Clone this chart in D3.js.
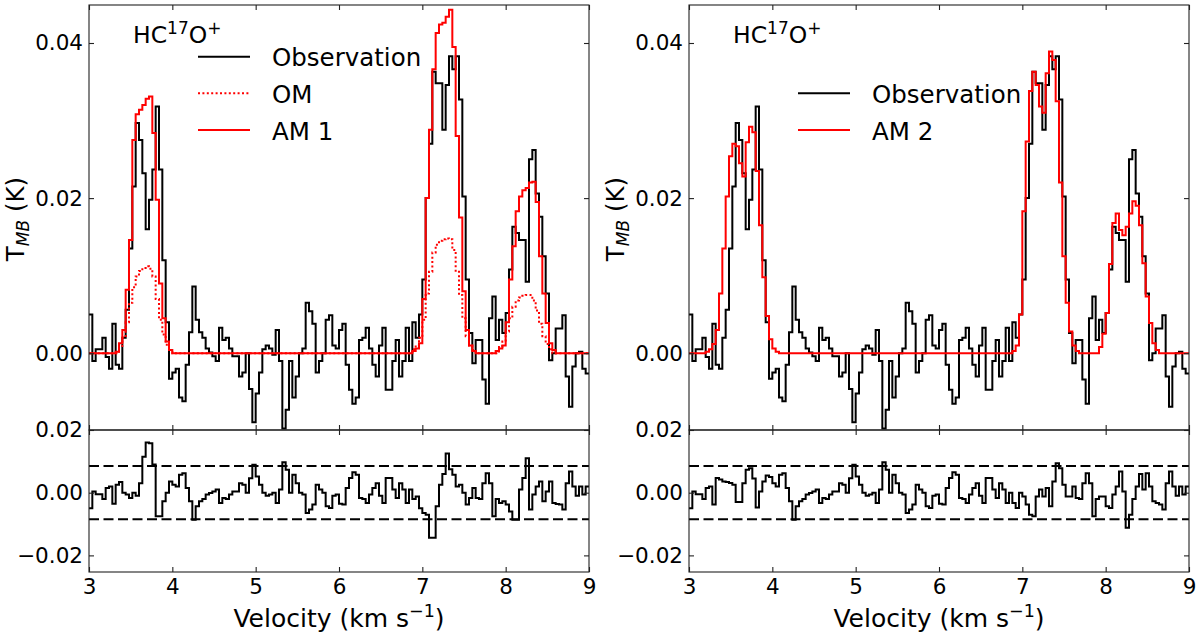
<!DOCTYPE html>
<html>
<head>
<meta charset="utf-8">
<script src="https://cdn.jsdelivr.net/npm/d3@7"></script>
<style>
  body { margin: 0; background: #fff; }
  svg text { font-family: "DejaVu Sans", sans-serif; fill: #000; }
</style>
</head>
<body>
<div id="chart"></div>
<script>
// HC17O+ spectrum: observation vs. models (left: OM / AM 1, right: AM 2) with residuals

// channel grid (km/s)
const chanStart = 3.0, chanWidth = 0.04;

// observed spectrum, T_MB (K), one value per channel
const obs = [
  0.005, -0.001, 0.0005, 0.0005, 0.002, -0.0005, -0.002, 0.0038, -0.0015, -0.002,
  0.002, 0.0056, 0.0135, 0.0215, 0.0297, 0.0275, 0.0232, 0.016, 0.0198, 0.0237,
  0.0318, 0.0237, 0.012, 0.004, -0.0033, -0.0025, -0.002, -0.0057, -0.0062, -0.0015,
  0.0027, 0.0086, 0.0043, 0.0027, 0.002, 0.0006, 0.0001, -0.0004, -0.001, 0.0033,
  0.0017, 0.002, 0.0006, -0.0004, -0.0004, -0.003, -0.0025, 0, -0.0046, -0.0089,
  -0.0052, -0.0025, 0.0005, 0.001, 0.0006, -0.0002, 0.003, -0.001, -0.0097, -0.0073,
  -0.001, -0.0057, -0.003, 0, 0.0006, 0.0065, 0.0054, 0.0038, -0.0025, -0.001,
  0, 0.0043, 0.0049, 0.001, 0.0006, 0.003, 0.0038, -0.0015, -0.0047, -0.0065,
  -0.0057, 0.0017, 0.002, 0.0033, 0.0006, -0.0015, -0.003, 0.001, 0.0033, -0.0047,
  -0.0047, -0.001, 0.0017, -0.003, -0.001, 0.0033, -0.001, 0.004, 0.002, 0.005,
  0.0095, 0.02, 0.027, 0.0363, 0.0348, 0.0348, 0.0288, 0.0346, 0.0383, 0.0366,
  0.0383, 0.0327, 0.0202, 0.0095, 0.0026, -0.0013, 0.0017, 0.0017, -0.0034, -0.0065,
  0.0045, 0.0073, 0.0017, 0.0043, 0.0026, 0.0052, 0.0108, 0.0163, 0.0155, 0.0146,
  0.0146, 0.0092, 0.025, 0.0262, 0.0206, 0.0176, 0.0125, 0.0077, -0.0009, 0,
  0.0032, 0.0032, 0.0049, -0.003, -0.0069, -0.0017, 0, 0.0002, -0.002, -0.0026
];

// OM model
const om = [
  0, 0, 0, 0, 0, 0, 0, 0, 0, 0.0008,
  0.002, 0.004, 0.0065, 0.0085, 0.0099, 0.0106, 0.011, 0.0112, 0.0109, 0.0099,
  0.007, 0.0043, 0.0024, 0.0011, 0.0004, 0, 0, 0, 0, 0,
  0, 0, 0, 0, 0, 0, 0, 0, 0, 0,
  0, 0, 0, 0, 0, 0, 0, 0, 0, 0,
  0, 0, 0, 0, 0, 0, 0, 0, 0, 0,
  0, 0, 0, 0, 0, 0, 0, 0, 0, 0,
  0, 0, 0, 0, 0, 0, 0, 0, 0, 0,
  0, 0, 0, 0, 0, 0, 0, 0, 0, 0,
  0, 0, 0, 0, 0, 0, 0, 0.0005, 0.001, 0.002,
  0.0043, 0.0077, 0.0105, 0.013, 0.014, 0.0145, 0.0147, 0.0148, 0.0147, 0.0133,
  0.0105, 0.0075, 0.0045, 0.0022, 0.001, 0.0004, 0, 0, 0, 0,
  0, 0, 0, 0.0008, 0.0015, 0.0028, 0.0045, 0.006, 0.0068, 0.0072,
  0.0074, 0.0075, 0.0075, 0.0068, 0.0055, 0.0038, 0.0022, 0.0012, 0.0005, 0,
  0, 0, 0, 0, 0, 0, 0, 0, 0, 0
];

// AM 1 model
const am1 = [
  0, 0, 0, 0, 0, 0, 0, 0, 0.0002, 0.0013,
  0.003, 0.0082, 0.0146, 0.0275, 0.0308, 0.0314, 0.032, 0.0328, 0.0331, 0.0284,
  0.0198, 0.009, 0.0045, 0.0015, 0.0004, 0, 0, 0, 0, 0,
  0, 0, 0, 0, 0, 0, 0, 0, 0, 0,
  0, 0, 0, 0, 0, 0, 0, 0, 0, 0,
  0, 0, 0, 0, 0, 0, 0, 0, 0, 0,
  0, 0, 0, 0, 0, 0, 0, 0, 0, 0,
  0, 0, 0, 0, 0, 0, 0, 0, 0, 0,
  0, 0, 0, 0, 0, 0, 0, 0, 0, 0,
  0, 0, 0, 0, 0, 0, 0, 0.0003, 0.0006, 0.0013,
  0.007, 0.02, 0.0288, 0.0366, 0.0413, 0.0424, 0.0426, 0.0434, 0.0443, 0.0395,
  0.028, 0.0175, 0.008, 0.003, 0.001, 0.0003, 0, 0, 0, 0,
  0, 0, 0.0003, 0.0006, 0.001, 0.004, 0.0095, 0.0138, 0.0183, 0.0202,
  0.021, 0.0213, 0.022, 0.0221, 0.0195, 0.0125, 0.0077, 0.0039, 0.0013, 0.0004,
  0, 0, 0, 0, 0, 0, 0, 0, 0, 0
];

// AM 2 model
const am2 = [
  0, 0, 0, 0, 0, 0.0002, 0.0005, 0.0012, 0.003, 0.0077,
  0.0135, 0.0202, 0.0254, 0.027, 0.0267, 0.0245, 0.0228, 0.0272, 0.0292, 0.0285,
  0.0235, 0.0165, 0.0098, 0.0048, 0.0018, 0.0006, 0.0002, 0, 0, 0,
  0, 0, 0, 0, 0, 0, 0, 0, 0, 0,
  0, 0, 0, 0, 0, 0, 0, 0, 0, 0,
  0, 0, 0, 0, 0, 0, 0, 0, 0, 0,
  0, 0, 0, 0, 0, 0, 0, 0, 0, 0,
  0, 0, 0, 0, 0, 0, 0, 0, 0, 0,
  0, 0, 0, 0, 0, 0, 0, 0, 0, 0,
  0, 0, 0, 0, 0, 0, 0, 0.0003, 0.001, 0.005,
  0.0183, 0.0273, 0.0338, 0.0363, 0.0346, 0.0318, 0.031, 0.0361, 0.0389, 0.0378,
  0.0325, 0.022, 0.0125, 0.0065, 0.0028, 0.001, 0.0003, 0, 0, 0,
  0, 0, 0, 0.0008, 0.0025, 0.0052, 0.0115, 0.0168, 0.018, 0.0159,
  0.0152, 0.0163, 0.018, 0.0196, 0.019, 0.0165, 0.0116, 0.0073, 0.0039, 0.0013,
  0.0004, 0, 0, 0, 0, 0, 0, 0, 0, 0
];

// residuals under each panel
const resAM1 = [
  -0.005, 0.0004, -0.0005, -0.0005, -0.002, 0.0015, 0.002, -0.0035, 0.0025, 0.0034,
  0, -0.0006, -0.0017, 0, -0.001, 0.003, 0.0115, 0.016, 0.0158, 0.009,
  -0.0075, -0.0075, -0.0027, 0, 0.0036, 0.0025, 0.002, 0.0057, 0.0062, 0.0015,
  -0.0027, -0.0086, -0.0043, -0.0027, -0.002, -0.0006, -0.0001, 0.0004, 0.001, -0.0033,
  -0.0017, -0.002, -0.0006, 0.0004, 0.0004, 0.003, 0.0025, 0, 0.0046, 0.0089,
  0.0052, 0.0025, 0, -0.001, -0.0006, 0, -0.0033, 0.001, 0.0097, 0.0073,
  0, 0.0057, 0.003, 0, -0.0006, -0.0065, -0.0054, -0.0038, 0.0025, 0.001,
  0, -0.0043, -0.0049, -0.001, -0.0006, -0.0035, -0.0038, 0.0015, 0.0047, 0.0065,
  0.0057, -0.0017, -0.002, -0.0033, -0.0006, 0.0015, 0.003, -0.001, -0.0033, 0.0047,
  0.0047, 0.001, -0.0017, 0.003, 0.001, -0.0033, 0.001, -0.002, -0.0012, -0.005,
  -0.0065, -0.007, -0.0144, -0.0144, -0.0043, 0.0025, 0.006, 0.0125, 0.0075, 0.0057,
  0.002, 0.0025, 0, -0.0038, -0.0017, 0.0015, -0.0017, -0.002, 0.003, 0.0062,
  0.003, -0.0075, -0.002, -0.0033, -0.0027, -0.0038, -0.006, -0.0086, -0.0086, 0.001,
  0.0047, 0.011, -0.0054, -0.0006, 0.002, 0.0036, -0.0027, 0.0004, 0.0036, -0.0033,
  -0.0036, -0.0038, -0.0054, 0.003, 0.0068, 0.002, -0.001, 0.002, -0.0006, 0.002
];

const resAM2 = [
  -0.005, 0.0004, -0.0005, -0.0005, -0.002, 0.0015, 0.002, -0.0038, 0.0047, 0.0042,
  0.0036, 0.0034, 0.0031, 0.0025, -0.003, -0.003, 0.003, 0.0073, 0.0078, 0.0045,
  -0.0047, 0.0004, 0.0036, 0.0055, 0.005, 0.003, 0.002, 0.0057, 0.0062, 0.0015,
  -0.0027, -0.0086, -0.0043, -0.0027, -0.002, -0.0006, -0.0001, 0.0004, 0.001, -0.0033,
  -0.0017, -0.002, -0.0006, 0.0004, 0.0004, 0.003, 0.0025, 0, 0.0046, 0.0089,
  0.0052, 0.0025, 0, -0.001, -0.0006, 0, -0.0033, 0.001, 0.0097, 0.0073,
  0, 0.0057, 0.003, 0, -0.0006, -0.0065, -0.0054, -0.0038, 0.0025, 0.001,
  0, -0.0043, -0.0049, -0.001, -0.0006, -0.0035, -0.0038, 0.0015, 0.0047, 0.0065,
  0.0057, -0.0017, -0.002, -0.0033, -0.0006, 0.0015, 0.003, -0.001, -0.0033, 0.0047,
  0.0047, 0.001, -0.0017, 0.003, 0.001, -0.0033, 0, -0.0033, -0.0049, 0,
  -0.0012, -0.0038, -0.007, -0.0075, -0.0012, 0.001, -0.0012, 0.0015, -0.0043, 0.0036,
  0.0094, 0.0078, 0.0025, -0.0012, -0.0012, 0.002, -0.0017, -0.002, 0.003, 0.0062,
  0.003, -0.0075, -0.002, -0.0012, -0.0012, -0.0043, -0.0049, -0.0006, 0.002, 0.0068,
  0.0004, -0.0112, -0.007, -0.002, 0.002, 0.006, 0.001, 0.0062, 0.002, -0.0027,
  -0.0033, -0.0038, -0.0054, 0.003, 0.0068, 0.002, -0.001, 0.002, -0.0006, 0.002
];

const noiseLevel = 0.0085;          // dashed lines in residual panels
const xTicks = [3, 4, 5, 6, 7, 8, 9];
const yTicksSpec = [0, 0.02, 0.04];
const yTicksRes = [-0.02, 0, 0.02];

const width = 1200, height = 638;
const tickFont = 21.5, labelFont = 25, legendFont = 24.5;

const svg = d3.select("#chart")
  .append("svg")
  .attr("width", width)
  .attr("height", height);

// channel edges for the step lines
const edges = d3.range(obs.length + 1).map(i => chanStart + i * chanWidth);
const toSteps = vals => vals.map((v, i) => [edges[i], v])
  .concat([[edges[vals.length], vals[vals.length - 1]]]);

const panels = [
  {
    id: "L", left: 89,
    models: [
      {name: "OM", values: om, color: "#ff0000", dash: "2,2.4"},
      {name: "AM 1", values: am1, color: "#ff0000", dash: null}
    ],
    residual: resAM1,
    legend: [
      {label: "Observation", color: "#000", dash: null, row: 0},
      {label: "OM", color: "#ff0000", dash: "2,2.4", row: 1},
      {label: "AM 1", color: "#ff0000", dash: null, row: 2}
    ]
  },
  {
    id: "R", left: 689,
    models: [
      {name: "AM 2", values: am2, color: "#ff0000", dash: null}
    ],
    residual: resAM2,
    legend: [
      {label: "Observation", color: "#000", dash: null, row: 1},
      {label: "AM 2", color: "#ff0000", dash: null, row: 2}
    ]
  }
];

const specTop = 5, specBottom = 430, resBottom = 572;

panels.forEach(p => {
  const right = p.left + 500;
  const x = d3.scaleLinear().domain([3, 9]).range([p.left, right]);
  const ySpec = d3.scaleLinear().domain([-0.0099, 0.0449]).range([specBottom, specTop]);
  const yRes = d3.scaleLinear().domain([-0.0253, 0.02]).range([resBottom, specBottom]);

  const g = svg.append("g");

  // clip regions
  const defs = g.append("defs");
  defs.append("clipPath").attr("id", "clipS" + p.id)
    .append("rect").attr("x", p.left).attr("y", specTop)
    .attr("width", 500).attr("height", specBottom - specTop);
  defs.append("clipPath").attr("id", "clipR" + p.id)
    .append("rect").attr("x", p.left).attr("y", specBottom)
    .attr("width", 500).attr("height", resBottom - specBottom);

  const lineSpec = d3.line().x(d => x(d[0])).y(d => ySpec(d[1])).curve(d3.curveStepAfter);
  const lineRes = d3.line().x(d => x(d[0])).y(d => yRes(d[1])).curve(d3.curveStepAfter);

  // spectrum panel
  const gs = g.append("g").attr("clip-path", `url(#clipS${p.id})`);
  gs.append("path")
    .datum(toSteps(obs))
    .attr("d", lineSpec)
    .attr("fill", "none")
    .attr("stroke", "#000")
    .attr("stroke-width", 2);

  p.models.forEach(m => {
    gs.append("path")
      .datum(toSteps(m.values))
      .attr("d", lineSpec)
      .attr("fill", "none")
      .attr("stroke", m.color)
      .attr("stroke-width", 2)
      .attr("stroke-dasharray", m.dash);
  });

  // residual panel
  const gr = g.append("g").attr("clip-path", `url(#clipR${p.id})`);
  [noiseLevel, -noiseLevel].forEach(v => {
    gr.append("line")
      .attr("x1", p.left).attr("x2", right)
      .attr("y1", yRes(v)).attr("y2", yRes(v))
      .attr("stroke", "#000")
      .attr("stroke-width", 2)
      .attr("stroke-dasharray", "10,4.5");
  });
  gr.append("path")
    .datum(toSteps(p.residual))
    .attr("d", lineRes)
    .attr("fill", "none")
    .attr("stroke", "#000")
    .attr("stroke-width", 2);

  // axes (ticks pointing in, on all four sides)
  const styleAxis = sel => {
    sel.select(".domain").remove();
    sel.selectAll(".tick line").attr("stroke", "#222").attr("stroke-width", 1.1);
    sel.selectAll("text").attr("font-size", tickFont).attr("font-family", "DejaVu Sans");
  };
  const fmt = d3.format(".2f");

  g.append("g").attr("transform", `translate(${p.left},0)`)
    .call(d3.axisLeft(ySpec).tickValues(yTicksSpec).tickFormat(fmt)
      .tickSizeInner(-5).tickSizeOuter(0).tickPadding(6))
    .call(styleAxis);
  g.append("g").attr("transform", `translate(${right},0)`)
    .call(d3.axisRight(ySpec).tickValues(yTicksSpec).tickFormat("")
      .tickSizeInner(-5).tickSizeOuter(0))
    .call(styleAxis);
  g.append("g").attr("transform", `translate(0,${specTop})`)
    .call(d3.axisTop(x).tickValues(xTicks).tickFormat("")
      .tickSizeInner(-5).tickSizeOuter(0))
    .call(styleAxis);
  g.append("g").attr("transform", `translate(0,${specBottom})`)
    .call(d3.axisBottom(x).tickValues(xTicks).tickFormat("")
      .tickSizeInner(-5).tickSizeOuter(0))
    .call(styleAxis);

  g.append("g").attr("transform", `translate(${p.left},0)`)
    .call(d3.axisLeft(yRes).tickValues(yTicksRes).tickFormat(fmt)
      .tickSizeInner(-5).tickSizeOuter(0).tickPadding(6))
    .call(styleAxis);
  g.append("g").attr("transform", `translate(${right},0)`)
    .call(d3.axisRight(yRes).tickValues(yTicksRes).tickFormat("")
      .tickSizeInner(-5).tickSizeOuter(0))
    .call(styleAxis);
  g.append("g").attr("transform", `translate(0,${specBottom})`)
    .call(d3.axisTop(x).tickValues(xTicks).tickFormat("")
      .tickSizeInner(-5).tickSizeOuter(0))
    .call(styleAxis);
  g.append("g").attr("transform", `translate(0,${resBottom})`)
    .call(d3.axisBottom(x).tickValues(xTicks).tickFormat(d3.format("d"))
      .tickSizeInner(-5).tickSizeOuter(0).tickPadding(7))
    .call(styleAxis);

  // frames
  g.append("rect")
    .attr("x", p.left).attr("y", specTop)
    .attr("width", 500).attr("height", specBottom - specTop)
    .attr("fill", "none").attr("stroke", "#222").attr("stroke-width", 1.1);
  g.append("rect")
    .attr("x", p.left).attr("y", specBottom)
    .attr("width", 500).attr("height", resBottom - specBottom)
    .attr("fill", "none").attr("stroke", "#222").attr("stroke-width", 1.1);

  // species label
  const sp = g.append("text")
    .attr("x", p.left + 44).attr("y", 43)
    .attr("font-size", 23.5);
  sp.append("tspan").text("HC");
  sp.append("tspan").attr("font-size", 17).attr("dy", -9.5).text("17");
  sp.append("tspan").attr("dy", 9.5).text("O");
  sp.append("tspan").attr("font-size", 17).attr("dy", -9.5).text("+");

  // legend
  const rowY = [56.7, 93.3, 130];
  p.legend.forEach(e => {
    const yy = rowY[e.row];
    g.append("line")
      .attr("x1", p.left + 109).attr("x2", p.left + 161)
      .attr("y1", yy).attr("y2", yy)
      .attr("stroke", e.color)
      .attr("stroke-width", 2)
      .attr("stroke-dasharray", e.dash);
    g.append("text")
      .attr("x", p.left + 183).attr("y", yy + 9.5)
      .attr("font-size", legendFont)
      .text(e.label);
  });

  // x label
  const xl = g.append("text")
    .attr("x", (p.left + right) / 2).attr("y", 627)
    .attr("text-anchor", "middle")
    .attr("font-size", labelFont);
  xl.append("tspan").text("Velocity (km s");
  xl.append("tspan").attr("font-size", 17.5).attr("dy", -10).text("\u22121");
  xl.append("tspan").attr("dy", 10).text(")");

  // y label
  const yl = g.append("text")
    .attr("transform", `translate(${p.left - 65.5},219) rotate(-90)`)
    .attr("text-anchor", "middle")
    .attr("font-size", 24.5);
  yl.append("tspan").text("T");
  yl.append("tspan").attr("font-size", 17).attr("font-style", "italic").attr("dy", 5).text("MB");
  yl.append("tspan").attr("dy", -5).text(" (K)");
});
</script>
</body>
</html>
